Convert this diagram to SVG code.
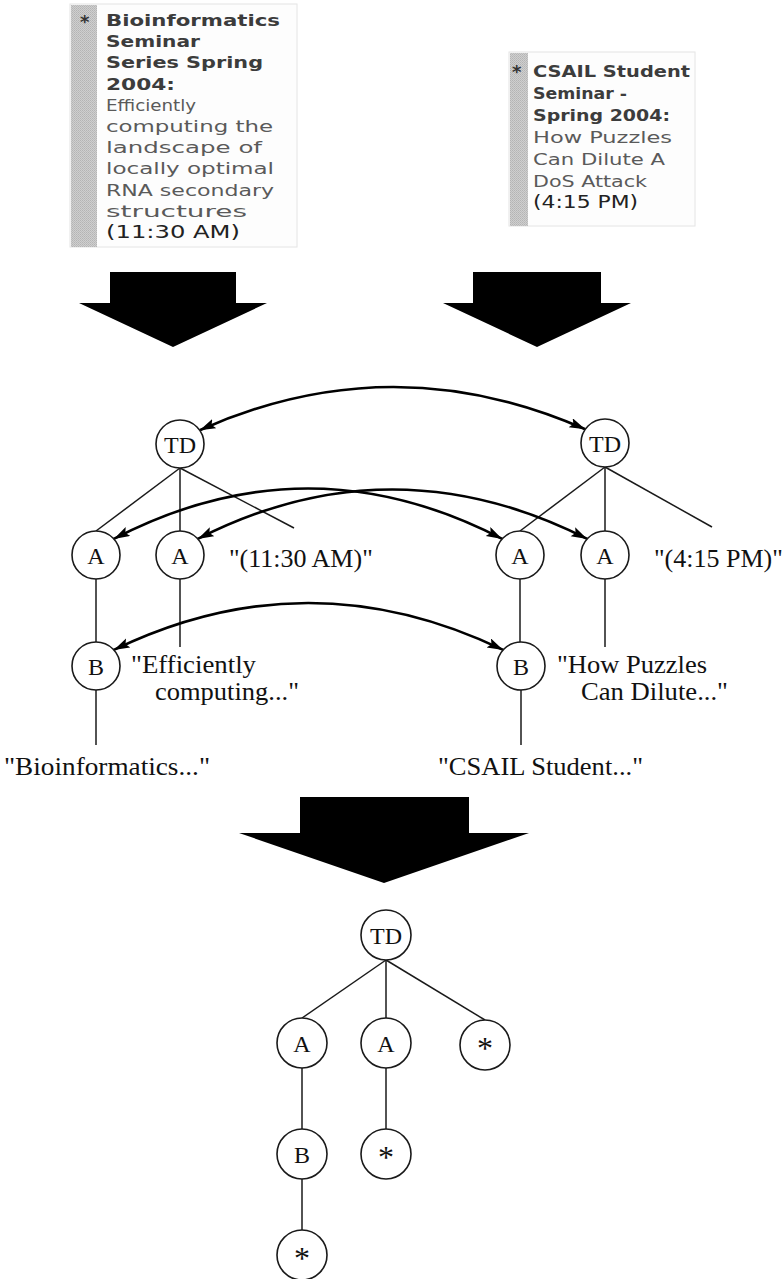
<svg xmlns="http://www.w3.org/2000/svg" width="783" height="1279" viewBox="0 0 783 1279">
<style>
.bx{fill:#fdfdfd;stroke:#e4e4e4;stroke-width:1}
.strip{fill:url(#stip)}
.hb{font-family:"DejaVu Sans",Verdana,sans-serif;font-weight:bold;font-size:16px;fill:#3c3c3c}
.hr{font-family:"DejaVu Sans",Verdana,sans-serif;font-size:16px;fill:#5a5a5a}
.ht{font-family:"DejaVu Sans",Verdana,sans-serif;font-size:17px;fill:#222}
.star{font-family:"DejaVu Sans",sans-serif;font-weight:bold;font-size:18px;fill:#333}
.blk{fill:#000}
.nd{fill:#fff;stroke:#1a1a1a;stroke-width:1.6}
.nl{font-family:"Liberation Serif","Times New Roman",serif;font-size:24px;fill:#111;text-anchor:middle}
.ast{font-family:"Liberation Serif","Times New Roman",serif;font-size:32px;fill:#111;text-anchor:middle}
.lb{font-family:"Liberation Serif","Times New Roman",serif;font-size:26px;fill:#111}
.lb2{font-family:"Liberation Serif","Times New Roman",serif;font-size:24.5px;fill:#111}
.tl{stroke:#1a1a1a;stroke-width:1.5;fill:none}
.arc{stroke:#000;stroke-width:2.6;fill:none;marker-start:url(#ah);marker-end:url(#ah)}
</style>
<defs>
<pattern id="stip" width="2" height="2" patternUnits="userSpaceOnUse">
<rect width="2" height="2" fill="#cfcfcf"/>
<rect width="1" height="1" fill="#b4b4b4"/>
<rect x="1" y="1" width="1" height="1" fill="#bcbcbc"/>
</pattern>
<marker id="ah" markerUnits="userSpaceOnUse" markerWidth="18" markerHeight="12" refX="16" refY="5" orient="auto-start-reverse">
<path d="M0,0 L16,5 L0,10 L3,5 z" fill="#000"/>
</marker>
</defs>

<g id="box1">
<rect class="bx" x="70" y="4" width="227" height="243"/>
<rect class="strip" x="71" y="5" width="26" height="242"/>
<text class="star" x="80" y="28">*</text>
<text class="hb" x="106" y="26" textLength="174" lengthAdjust="spacingAndGlyphs">Bioinformatics</text>
<text class="hb" x="106" y="47.2" textLength="94" lengthAdjust="spacingAndGlyphs">Seminar</text>
<text class="hb" x="106" y="68.4" textLength="157" lengthAdjust="spacingAndGlyphs">Series Spring</text>
<text class="hb" x="106" y="89.6" textLength="69" lengthAdjust="spacingAndGlyphs">2004:</text>
<text class="hr" x="106" y="110.8" textLength="90" lengthAdjust="spacingAndGlyphs">Efficiently</text>
<text class="hr" x="106" y="132" textLength="167" lengthAdjust="spacingAndGlyphs">computing the</text>
<text class="hr" x="106" y="153.2" textLength="156" lengthAdjust="spacingAndGlyphs">landscape of</text>
<text class="hr" x="106" y="174.4" textLength="168" lengthAdjust="spacingAndGlyphs">locally optimal</text>
<text class="hr" x="106" y="195.6" textLength="168" lengthAdjust="spacingAndGlyphs">RNA secondary</text>
<text class="hr" x="106" y="216.8" textLength="141" lengthAdjust="spacingAndGlyphs">structures</text>
<text class="ht" x="106" y="238" textLength="134" lengthAdjust="spacingAndGlyphs">(11:30 AM)</text>
</g>

<g id="box2">
<rect class="bx" x="509" y="52" width="186" height="174"/>
<rect class="strip" x="510" y="53" width="18" height="173"/>
<text class="star" x="512" y="78">*</text>
<text class="hb" x="533" y="77" textLength="157" lengthAdjust="spacingAndGlyphs">CSAIL Student</text>
<text class="hb" x="533" y="99" textLength="94" lengthAdjust="spacingAndGlyphs">Seminar -</text>
<text class="hb" x="533" y="121" textLength="137" lengthAdjust="spacingAndGlyphs">Spring 2004:</text>
<text class="hr" x="533" y="143" textLength="139" lengthAdjust="spacingAndGlyphs">How Puzzles</text>
<text class="hr" x="533" y="165" textLength="132" lengthAdjust="spacingAndGlyphs">Can Dilute A</text>
<text class="hr" x="533" y="187" textLength="114" lengthAdjust="spacingAndGlyphs">DoS Attack</text>
<text class="ht" x="533" y="208" textLength="105" lengthAdjust="spacingAndGlyphs">(4:15 PM)</text>
</g>

<g id="bigarrows">
<polygon class="blk" points="110,272 236,272 236,303 267,303 173,347 79,303 110,303"/>
<polygon class="blk" points="473,272 601,272 601,303 631,303 537,347 443,303 473,303"/>
<polygon class="blk" points="300,797 469,797 469,833 529,833 384,883 239,833 300,833"/>
</g>

<g id="connectors">
<line class="tl" x1="180" y1="468" x2="96" y2="531"/>
<line class="tl" x1="180" y1="468" x2="180" y2="531"/>
<line class="tl" x1="180" y1="468" x2="294" y2="528"/>
<line class="tl" x1="96" y1="579" x2="96" y2="642"/>
<line class="tl" x1="180" y1="579" x2="180" y2="647"/>
<line class="tl" x1="96" y1="690" x2="96" y2="745"/>
<line class="tl" x1="605" y1="467" x2="520" y2="531"/>
<line class="tl" x1="605" y1="467" x2="605" y2="531"/>
<line class="tl" x1="605" y1="467" x2="712" y2="527"/>
<line class="tl" x1="520" y1="579" x2="520" y2="642"/>
<line class="tl" x1="605" y1="579" x2="605" y2="647"/>
<line class="tl" x1="521" y1="690" x2="521" y2="745"/>
<path class="arc" d="M199.7,430.2 Q392,344.3 585.3,429.2"/>
<path class="arc" d="M113.8,538.9 Q308,438 502.2,538.9"/>
<path class="arc" d="M197.8,538.9 Q392,440 587.2,538.9"/>
<path class="arc" d="M113.8,649.9 Q308,556 503.2,649.9"/>
<line class="tl" x1="386" y1="960" x2="302" y2="1018"/>
<line class="tl" x1="386" y1="960" x2="386" y2="1018"/>
<line class="tl" x1="386" y1="960" x2="485" y2="1020"/>
<line class="tl" x1="302" y1="1068" x2="302" y2="1129"/>
<line class="tl" x1="386" y1="1068" x2="386" y2="1129"/>
<line class="tl" x1="302" y1="1179" x2="302" y2="1230"/>
</g>

<g id="td1"><circle class="nd" cx="180" cy="444" r="24"/><text class="nl" x="180" y="452.5">TD</text></g>
<g id="a1"><circle class="nd" cx="96" cy="555" r="24"/><text class="nl" x="96" y="563.5">A</text></g>
<g id="a2"><circle class="nd" cx="180" cy="555" r="24"/><text class="nl" x="180" y="563.5">A</text></g>
<g id="b1"><circle class="nd" cx="96" cy="666" r="24"/><text class="nl" x="96" y="674.5">B</text></g>
<g id="td2"><circle class="nd" cx="605" cy="443" r="24"/><text class="nl" x="605" y="451.5">TD</text></g>
<g id="a3"><circle class="nd" cx="520" cy="555" r="24"/><text class="nl" x="520" y="563.5">A</text></g>
<g id="a4"><circle class="nd" cx="605" cy="555" r="24"/><text class="nl" x="605" y="563.5">A</text></g>
<g id="b2"><circle class="nd" cx="521" cy="666" r="24"/><text class="nl" x="521" y="674.5">B</text></g>

<g id="labels">
<text class="lb" x="229" y="567">"(11:30 AM)"</text>
<text class="lb" x="654" y="567">"(4:15 PM)"</text>
<text class="lb2" x="131" y="673" textLength="125" lengthAdjust="spacingAndGlyphs">"Efficiently</text>
<text class="lb2" x="155" y="700" textLength="144" lengthAdjust="spacingAndGlyphs">computing..."</text>
<text class="lb2" x="557" y="673" textLength="150" lengthAdjust="spacingAndGlyphs">"How Puzzles</text>
<text class="lb2" x="581" y="700" textLength="147" lengthAdjust="spacingAndGlyphs">Can Dilute..."</text>
<text class="lb" x="4" y="775" textLength="206" lengthAdjust="spacingAndGlyphs">"Bioinformatics..."</text>
<text class="lb" x="438" y="775" textLength="205" lengthAdjust="spacingAndGlyphs">"CSAIL Student..."</text>
</g>

<g id="td3"><circle class="nd" cx="386" cy="935" r="25"/><text class="nl" x="386" y="943.5">TD</text></g>
<g id="a5"><circle class="nd" cx="302" cy="1043" r="25"/><text class="nl" x="302" y="1051.5">A</text></g>
<g id="a6"><circle class="nd" cx="386" cy="1043" r="25"/><text class="nl" x="386" y="1051.5">A</text></g>
<g id="s1"><circle class="nd" cx="485" cy="1045" r="25"/><text class="ast" x="485" y="1059">*</text></g>
<g id="b3"><circle class="nd" cx="302" cy="1154" r="25"/><text class="nl" x="302" y="1162.5">B</text></g>
<g id="s2"><circle class="nd" cx="386" cy="1154" r="25"/><text class="ast" x="386" y="1168">*</text></g>
<g id="s3"><circle class="nd" cx="302" cy="1255" r="25"/><text class="ast" x="302" y="1269">*</text></g>
</svg>
